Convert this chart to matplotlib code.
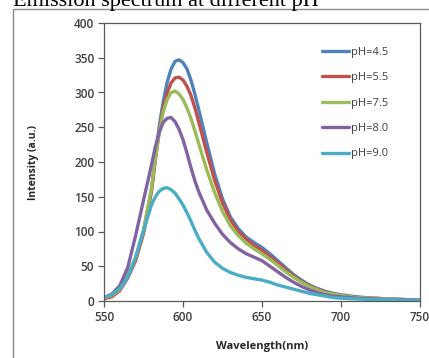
import numpy as np
import matplotlib
matplotlib.use("Agg")
import matplotlib.pyplot as plt
from matplotlib.patches import Rectangle

# wavelength grid (nm) and intensities
wavelength = [550, 555, 560, 565, 570, 575, 580, 582.5, 585, 587.5, 590,
              592.5, 595, 597.5, 600, 602.5, 605, 607.5, 610,
              615, 620, 625, 630, 635, 640, 645, 650,
              655, 660, 665, 670, 675, 680, 685, 690, 695, 700,
              710, 720, 730, 740, 750]

ph45 = [4, 8, 18, 36, 60, 100, 160, 205, 252, 287, 315,
        334, 345, 347, 343, 334, 318, 298, 275,
        228, 183, 147, 121, 104, 92, 84, 77,
        68, 58, 48, 38, 30, 23, 18, 14, 11, 9,
        6, 4, 3, 2, 1]
ph55 = [3, 6, 15, 33, 58, 97, 157, 203, 245, 278, 300,
        314, 321, 322, 318, 309, 296, 278, 257,
        214, 174, 141, 117, 100, 89, 80, 73,
        64, 55, 45, 36, 28, 22, 17, 13, 10, 8,
        5, 4, 3, 2, 1]
ph75 = [4, 8, 17, 36, 62, 102, 162, 205, 244, 272, 290,
        300, 302, 298, 290, 278, 263, 245, 226,
        189, 156, 129, 108, 94, 83, 75, 68,
        60, 51, 42, 34, 27, 21, 16, 12, 10, 8,
        5, 4, 3, 2, 1]
ph80 = [5, 10, 22, 48, 94, 145, 195, 222, 243, 257, 263,
        264, 258, 247, 232, 213, 192, 173, 157,
        131, 112, 96, 84, 75, 68, 63, 58,
        50, 42, 34, 27, 21, 16, 12, 9, 7, 6,
        4, 3, 2, 2, 1]
ph90 = [5, 9, 18, 34, 63, 101, 138, 150, 158, 162, 163,
        160, 155, 147, 138, 127, 115, 102, 90,
        70, 56, 47, 41, 37, 34, 32, 30,
        27, 23, 20, 17, 14, 11, 9, 7, 5, 4,
        3, 2, 2, 1, 1]

labels = ["pH=4.5", "pH=5.5", "pH=7.5", "pH=8.0", "pH=9.0"]
colors = ["#4F81BD", "#C0504D", "#9BBB59", "#8064A2", "#4BACC6"]
series = [ph45, ph55, ph75, ph80, ph90]

W, H = 429, 358
fig = plt.figure(figsize=(W / 100, H / 100), dpi=100)
fig.patch.set_facecolor("white")

# outer chart frame, only top and left edges visible
fig.add_artist(Rectangle((13 / W, -0.2), 1.2, 1.2 - 9 / H, transform=fig.transFigure,
                         fill=False, edgecolor="#8c8c8c", lw=1.0))

fig.text(13 / W, 1 - 6 / H, "Emission spectrum at different pH", family="Liberation Serif",
         fontsize=16, va="baseline", ha="left", color="black")

ax = fig.add_axes([104 / W, 1 - 301 / H, (420 - 104) / W, (301 - 23) / H])

for y, c, lab in zip(series, colors, labels):
    ax.plot(wavelength, y, color=c, lw=2.4, label=lab, solid_joinstyle="round",
            solid_capstyle="round")

ax.set_xlim(550, 750)
ax.set_ylim(0, 400)
ax.set_xticks(np.arange(550, 751, 50))
ax.set_yticks(np.arange(0, 401, 50))

for s in ax.spines.values():
    s.set_color("#595959")
    s.set_linewidth(0.9)

ax.tick_params(direction="out", length=4, width=0.9, color="#595959",
               labelsize=8.5, labelcolor="#404040", pad=3)
for t in ax.get_xticklabels() + ax.get_yticklabels():
    t.set_family("Open Sans")
    t.set_fontweight("semibold")

ax.set_xlabel("Wavelength(nm)", family="Open Sans", fontweight="bold",
              fontsize=8, color="#262626")
ax.set_ylabel("Intensity (a.u.)", family="Open Sans", fontweight="bold",
              fontsize=7.5, color="#262626")
ax.xaxis.set_label_coords(0.5, -0.145)
ax.yaxis.set_label_coords(-0.207, 0.5)

leg = ax.legend(loc="upper right", frameon=False, fontsize=8, handlelength=2.4,
                handletextpad=0.2, labelspacing=1.3, borderaxespad=0.6,
                bbox_to_anchor=(0.935, 0.955))
for t in leg.get_texts():
    t.set_family("Open Sans")
    t.set_color("#404040")

fig.savefig("out.png", dpi=100)
